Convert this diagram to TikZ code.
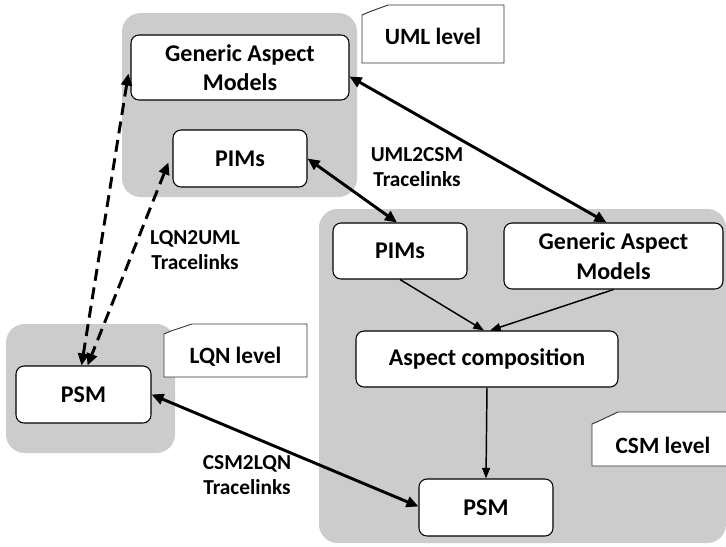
\documentclass[tikz,border=0pt]{standalone}
\usepackage{fontspec}
\setmainfont{Carlito}
\usetikzlibrary{arrows.meta,calc}
\definecolor{grp}{RGB}{204,204,204}
\begin{document}
\begin{tikzpicture}[x=0.75pt,y=-0.75pt,
  group/.style 2 args={fill=grp, rounded corners=14pt, inner sep=0pt,
    minimum width=#1*0.75pt, minimum height=#2*0.75pt},
  model/.style 2 args={draw=black, line width=0.8pt, fill=white, rounded corners=6pt,
    align=center, inner sep=0pt, minimum width=#1*0.75pt, minimum height=#2*0.75pt,
    font=\bfseries\fontsize{18}{22}\selectfont},
  lvl/.style={font=\bfseries\fontsize{17.5}{21.5}\selectfont},
  tag/.style={draw=black!80, line width=0.7pt, fill=white},
  trace/.style={align=center, font=\bfseries\fontsize{16}{19}\selectfont},
  link/.style={line width=2.2pt, {Triangle[length=9pt,width=8pt]}-{Triangle[length=9pt,width=8pt]}},
  flow/.style={line width=1.1pt, -{Triangle[length=8pt,width=6pt]}},
  dlink/.style={link, dash pattern=on 9pt off 5pt}
]
\useasboundingbox (0,0) rectangle (726,547);

% level groups
\node[group={235}{184}] (umlgrp) at (239.5,105) {};
\node[group={169}{129}] (lqngrp) at (90.5,388.5) {};
\node[group={407}{334}] (csmgrp) at (522.5,376) {};

% level tags
\draw[tag] (362,63) -- (362,15) -- (369,12) -- (388,5) -- (504,5) -- (504,63) -- cycle;
\node[lvl] (umllvl) at (433,36) {UML level};
\draw[tag] (164,377) -- (164,334) -- (171,331) -- (192,324) -- (307,324) -- (307,377) -- cycle;
\node[lvl] (lqnlvl) at (235.5,357) {LQN level};
\draw[tag] (592,466) -- (592,424) -- (599,421) -- (618,412) -- (730,412) -- (730,466) -- cycle;
\node[lvl] (csmlvl) at (663,445) {CSM level};

% models
\node[model={218}{65}] (ugam) at (240,67.5) {Generic Aspect\\Models};
\node[model={134}{57}] (upim) at (240,158.5) {PIMs};
\node[model={134}{56}] (cpim) at (400,251) {PIMs};
\node[model={219}{66}] (cgam) at (613.5,256) {Generic Aspect\\Models};
\node[model={262}{56}] (comp) at (487,359) {Aspect composition};
\node[model={134}{57}] (cpsm) at (486,507.5) {PSM};
\node[model={135}{57}] (lpsm) at (83.5,394.5) {PSM};

% trace link labels
\node[trace] (t1) at (417,167) {UML2CSM\\Tracelinks};
\node[trace] (t2) at (195,250) {LQN2UML\\Tracelinks};
\node[trace] (t3) at (247,475) {CSM2LQN\\Tracelinks};

% connectors
\draw[link] ($(ugam.east)+(0,9)$) -- ($(cgam.north)+(-7,0)$);
\draw[link] (upim.east) -- ($(cpim.north)+(-3,0)$);
\draw[flow] (cpim.south) -- ($(comp.north)+(-3,0)$);
\draw[flow] (cgam.south) -- ($(comp.north)+(3,0)$);
\draw[flow] (comp.south) -- (cpsm.north);
\draw[link] (lpsm.east) -- ($(cpsm.west)+(0,-1)$);
\draw[dlink] ($(ugam.west)+(-2,6)$) -- ($(lpsm.north)+(-2,0)$);
\draw[dlink] ($(upim.west)+(-4,4)$) -- ($(lpsm.north)+(4,0)$);
\end{tikzpicture}
\end{document}
